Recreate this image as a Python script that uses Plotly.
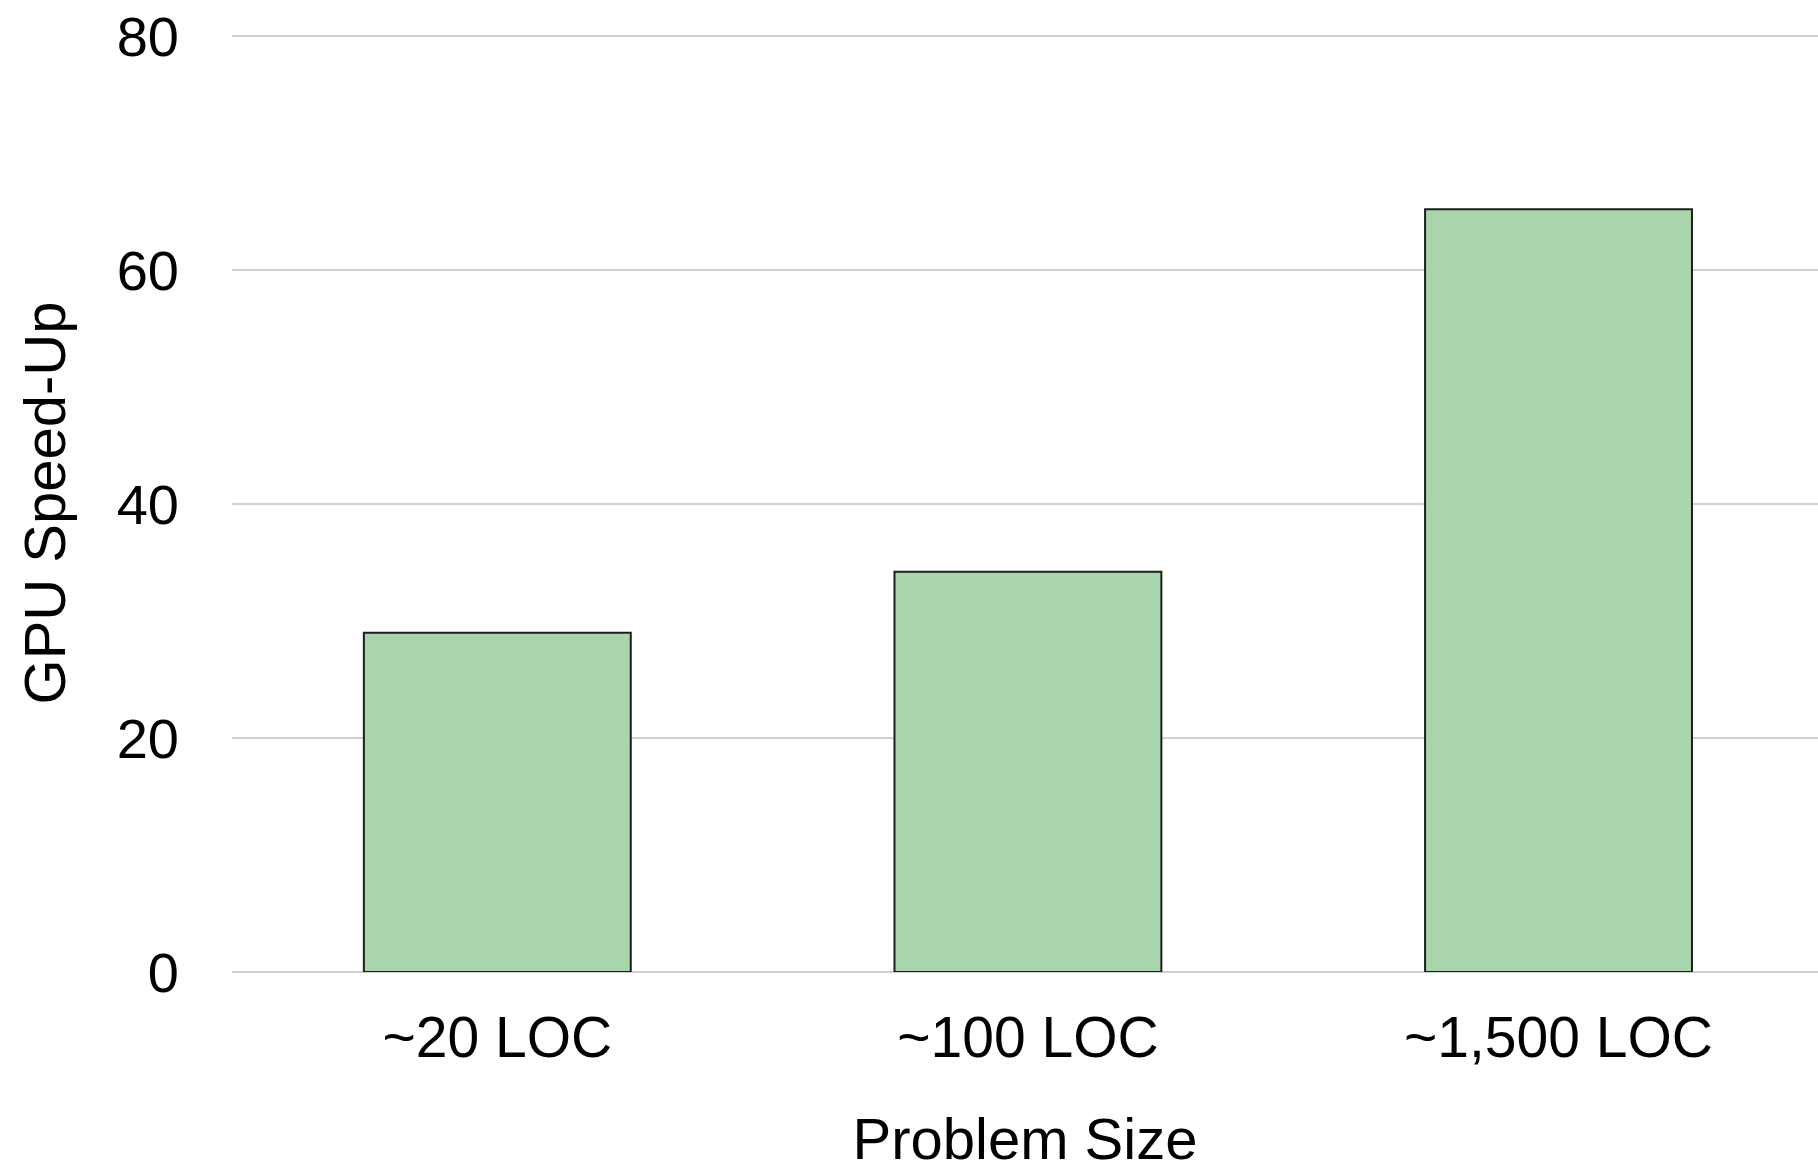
import plotly.graph_objects as go

categories = ["~20 LOC", "~100 LOC", "~1,500 LOC"]
speedup = [29.0, 34.2, 65.2]
y_ticks = [0, 20, 40, 60, 80]

FONT = "Liberation Sans, Arial, Helvetica, sans-serif"

fig = go.Figure(
    go.Bar(
        x=categories,
        y=speedup,
        marker=dict(color="#a8d5ab", line=dict(color="#1e1e1e", width=2)),
        width=0.503,
        hoverinfo="skip",
    )
)

fig.update_layout(
    width=1818,
    height=1171,
    paper_bgcolor="white",
    plot_bgcolor="white",
    margin=dict(l=232, r=0, t=34, b=199, autoexpand=False),
    showlegend=False,
    font=dict(family=FONT, color="black", size=56),
)

fig.update_xaxes(
    range=[-0.5, 2.489],
    showgrid=False,
    showline=False,
    ticks="",
    tickfont=dict(size=57, color="black"),
    ticklabelstandoff=27,
    ticklabeloverflow="allow",
    title=dict(text="Problem Size", font=dict(size=58, color="black"), standoff=67),
)

fig.update_yaxes(
    range=[0, 80.17],
    tickvals=y_ticks,
    showgrid=True,
    gridcolor="#d0d0d0",
    gridwidth=2,
    zeroline=True,
    zerolinecolor="#d0d0d0",
    zerolinewidth=2,
    showline=False,
    ticks="",
    tickfont=dict(size=56, color="black"),
    ticklabelstandoff=52,
    ticklabeloverflow="allow",
    title=dict(text="GPU Speed-Up", font=dict(size=58, color="black"), standoff=32),
)

fig.write_html(
    "out.html",
    config={"displayModeBar": False},
    post_script="document.body.style.margin='0';document.body.style.overflow='hidden';",
)
